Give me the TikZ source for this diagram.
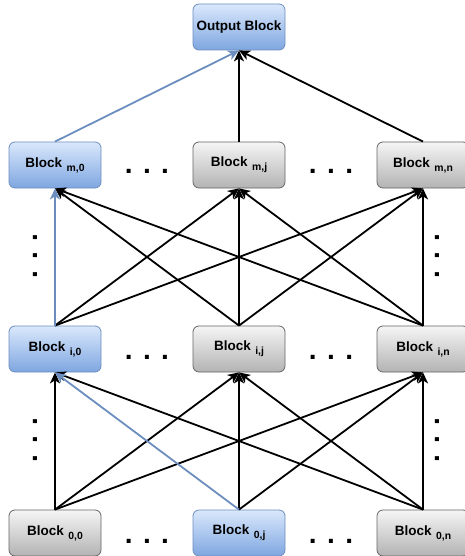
\documentclass[tikz,border=0pt]{standalone}
\usepackage{fontspec}
\setmainfont{Liberation Sans}
\usetikzlibrary{arrows.meta}
\definecolor{bluetop}{HTML}{DAE8FC}
\definecolor{bluebot}{HTML}{7EA6E0}
\definecolor{blueline}{HTML}{6C8EBF}
\definecolor{graytop}{HTML}{F5F5F5}
\definecolor{graybot}{HTML}{B3B3B3}
\definecolor{grayline}{HTML}{666666}
\newcommand{\blocklabel}[1]{Block\hspace{4.5pt}{\fontsize{10.4}{12}\selectfont\raisebox{-4pt}{#1}}}
\begin{document}
\begin{tikzpicture}[x=1pt,y=-1pt,
 box/.style={rounded corners=6pt, minimum width=92pt, minimum height=46pt, inner sep=0pt,
   font=\fontsize{13.5}{16}\selectfont\bfseries, line width=0.8pt},
 bluebox/.style={box, draw=blueline, top color=bluetop, bottom color=bluebot},
 graybox/.style={box, draw=grayline, top color=graytop, bottom color=graybot},
 conn/.style={line width=1.8pt, -{Stealth[length=11pt,width=10pt,inset=3pt]}},
 bconn/.style={conn, draw=blueline},
 dotsty/.style={font=\fontsize{28}{30}\selectfont\bfseries, inner sep=0pt, anchor=base},
]
\useasboundingbox (0,0) rectangle (464,556);
% nodes
\node[bluebox] (out) at (239,27) {Output Block};
\node[bluebox] (m0) at (55,165) {\blocklabel{m,0}};
\node[graybox] (mj) at (239,165) {\blocklabel{m,j}};
\node[graybox] (mn) at (423,165) {\blocklabel{m,n}};
\node[bluebox] (i0) at (55,349) {\blocklabel{i,0}};
\node[graybox] (ij) at (239,349) {\blocklabel{i,j}};
\node[graybox] (in) at (423,349) {\blocklabel{i,n}};
\node[graybox] (b0) at (55,533) {\blocklabel{0,0}};
\node[bluebox] (bj) at (239,533) {\blocklabel{0,j}};
\node[graybox] (bn) at (423,533) {\blocklabel{0,n}};
% dots
\node[dotsty] (d1) at (147,174) {. . .};
\node[dotsty] (d2) at (331,174) {. . .};
\node[dotsty] (d3) at (147,359) {. . .};
\node[dotsty] (d4) at (331,359) {. . .};
\node[dotsty] (d5) at (147,543) {. . .};
\node[dotsty] (d6) at (331,543) {. . .};
\node[dotsty, rotate=90] (v1) at (37,256) {. . .};
\node[dotsty, rotate=90] (v2) at (37,440) {. . .};
\node[dotsty, rotate=90] (v3) at (439,256) {. . .};
\node[dotsty, rotate=90] (v4) at (439,440) {. . .};
% bottom -> i
\draw[conn] (b0.north) -- (i0.south);
\draw[conn] (b0.north) -- (ij.south);
\draw[conn] (b0.north) -- (in.south);
\draw[conn] (bj.north) -- (ij.south);
\draw[conn] (bj.north) -- (in.south);
\draw[conn] (bn.north) -- (i0.south);
\draw[conn] (bn.north) -- (ij.south);
\draw[conn] (bn.north) -- (in.south);
\draw[bconn] (bj.north) -- (i0.south);
% i -> m
\draw[conn] (i0.north) -- (mj.south);
\draw[conn] (i0.north) -- (mn.south);
\draw[conn] (ij.north) -- (m0.south);
\draw[conn] (ij.north) -- (mj.south);
\draw[conn] (ij.north) -- (mn.south);
\draw[conn] (in.north) -- (m0.south);
\draw[conn] (in.north) -- (mj.south);
\draw[conn] (in.north) -- (mn.south);
\draw[bconn] (i0.north) -- (m0.south);
% m -> out
\draw[conn] (mj.north) -- (out.south);
\draw[conn] (mn.north) -- (out.south);
\draw[bconn] (m0.north) -- (out.south);
\end{tikzpicture}
\end{document}
